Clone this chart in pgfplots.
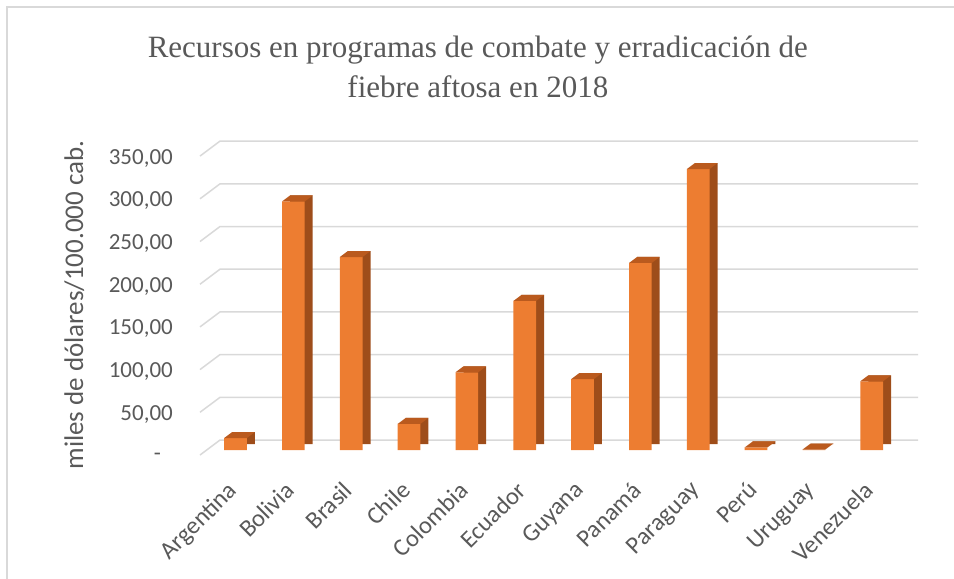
\documentclass[border=0pt]{standalone}
\usepackage{pgfplots}
\usepackage{pgfplotstable}
\pgfplotsset{compat=1.18}
\usepackage{fontspec}
\setmainfont{Carlito}
\newfontfamily\titlefont{Liberation Serif}
\definecolor{txt}{HTML}{595959}
\definecolor{gridc}{HTML}{D9D9D9}
\definecolor{frontc}{HTML}{ED7D31}
\definecolor{sidec}{HTML}{9E4D1A}
\definecolor{topc}{HTML}{BA5A1E}
\pgfdeclareplotmark{topface}{%
  \pgfpathmoveto{\pgfpoint{-11.35bp}{0bp}}%
  \pgfpathlineto{\pgfpoint{11.35bp}{0bp}}%
  \pgfpathlineto{\pgfpoint{19.35bp}{6bp}}%
  \pgfpathlineto{\pgfpoint{-3.35bp}{6bp}}%
  \pgfpathclose
  \pgfusepath{fill}}
\pgfplotstableread{
x v
0 14
1 291
2 226
3 30.5
4 91
5 174.5
6 83
7 219
8 329
9 3
10 0.5
11 80.5
}\datatab
\begin{document}
\begin{tikzpicture}
\useasboundingbox (0,0) rectangle (954bp,-579bp);
\draw[gridc, line width=1.5bp] (7bp,-579bp) -- (7bp,-7bp) -- (954bp,-7bp);
\begin{axis}[
  at={(200bp,-450bp)}, anchor=south west,
  scale only axis, width=718bp, height=311.7bp,
  xmin=-0.614, xmax=11.8, ymin=0, ymax=365,
  clip=false,
  axis line style={draw=none},
  major tick length=0pt,
  tick style={draw=none},
  xtick={0,...,11},
  xticklabels={Argentina,Bolivia,Brasil,Chile,Colombia,Ecuador,Guyana,Panamá,Paraguay,Perú,Uruguay,Venezuela},
  xticklabel style={rotate=45, anchor=north east, inner sep=0pt, font=\fontsize{24.5bp}{28bp}\selectfont, text=txt, xshift=-27.7bp, yshift=-14.4bp},
  ytick={0,50,100,150,200,250,300,350},
  yticklabels={{-\hspace*{12bp}},{50,00},{100,00},{150,00},{200,00},{250,00},{300,00},{350,00}},
  yticklabel style={anchor=east, inner sep=0pt, xshift=-27bp, yshift=-7bp, font=\fontsize{23bp}{26bp}\selectfont, text=txt},
  ylabel={miles de dólares/100.000 cab.},
  every axis y label/.style={at={(axis description cs:-0.175,0.465)}, rotate=90, anchor=center, font=\fontsize{27bp}{30bp}\selectfont, text=txt},
  title={Recursos en programas de combate y erradicación de\\fiebre aftosa en 2018},
  every axis title/.style={at={(axis description cs:0.387,1.2288)}, anchor=center, align=center, font=\titlefont\fontsize{31bp}{40bp}\selectfont, text=txt},
]
\pgfplotsinvokeforeach{0,50,100,150,200,250,300,350}{
  \draw[gridc, line width=1.5bp] ([yshift=-5bp]axis cs:-0.614,#1) -- ([yshift=10bp]axis cs:-0.268,#1) -- ([yshift=10bp]axis cs:11.8,#1);
}
\addplot[ybar, bar width=22.7bp, bar shift=8bp, yshift=6bp, fill=sidec, draw=none] table[x=x,y=v]{\datatab};
\addplot[ybar, bar width=22.7bp, bar shift=0bp, fill=frontc, draw=none] table[x=x,y=v]{\datatab};
\addplot[only marks, mark=topface, mark options={fill=topc, draw=none}] table[x=x,y=v]{\datatab};
\end{axis}
\end{tikzpicture}
\end{document}
